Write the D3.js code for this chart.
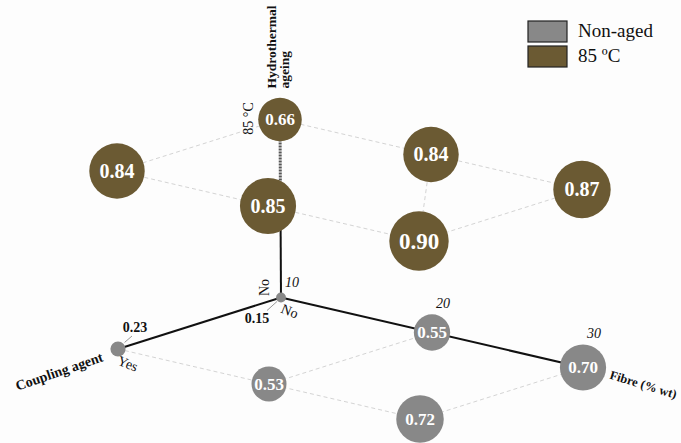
<!DOCTYPE html>
<html>
<head>
<meta charset="utf-8">
<script src="https://cdn.jsdelivr.net/npm/d3@7"></script>
<style>
  html, body { margin: 0; padding: 0; background: #fdfdfd; }
  svg { display: block; }
</style>
</head>
<body>
<svg id="chart" width="681" height="443" font-family="'Liberation Serif', 'Times New Roman', serif"></svg>
<script>
// ---- data ----
const fibreLevels = [10, 20, 30];            // Fibre (% wt)
const couplingLevels = ["No", "Yes"];        // Coupling agent
const ageingLevels = ["Non-aged", "85 °C"];  // Hydrothermal ageing
// values indexed [fibre][coupling]
const nonAgedValues = [[0.15, 0.23], [0.55, 0.53], [0.70, 0.72]];
const agedValues    = [[0.66, 0.84], [0.84, 0.85], [0.87, 0.90]];
// dashed grid connections, as [fibreIndex, couplingIndex] pairs
const nonAgedEdges = [[[0,1],[1,1]], [[1,1],[1,0]], [[1,1],[2,1]], [[2,1],[2,0]]];
const agedEdges = [[[0,0],[0,1]], [[0,0],[1,0]], [[0,1],[1,1]], [[1,1],[2,1]],
                   [[1,0],[2,0]], [[1,0],[2,1]], [[2,0],[2,1]]];
const legendLabels = ["Non-aged", "85 ºC"];
const colors = ["#888888", "#6b5a33"];

// ---- scales ----
const svg = d3.select("#chart");
const origin = [281, 297.5];
const fibreVec = [151, 35];      // per 10 % wt
const couplingVec = [-163, 51.5];
const ageingVec = [-1, -178];
const fScale = d3.scaleLinear().domain([10, 30]).range([0, 2]);
const cScale = d3.scalePoint().domain(couplingLevels).range([0, 1]);
const aScale = d3.scalePoint().domain(ageingLevels).range([0, 1]);
const rScale = d3.scaleLinear().domain([0, 1]).range([0, 33]);
const fontScale = d3.scaleThreshold().domain([0.8, 0.88]).range([17, 20, 23]);

function project(f, c, a) {
  const fu = fScale(f), cu = typeof c === "number" ? c : cScale(c), au = typeof a === "number" ? a : aScale(a);
  return [origin[0] + fu * fibreVec[0] + cu * couplingVec[0] + au * ageingVec[0],
          origin[1] + fu * fibreVec[1] + cu * couplingVec[1] + au * ageingVec[1]];
}

const points = [];
[nonAgedValues, agedValues].forEach((vals, ai) => {
  vals.forEach((row, fi) => row.forEach((v, ci) => {
    const [x, y] = project(fibreLevels[fi], couplingLevels[ci], ageingLevels[ai]);
    points.push({ v, fi, ci, ai, x, y, r: rScale(v) });
  }));
});
const pt = (ai, fi, ci) => points.find(p => p.ai === ai && p.fi === fi && p.ci === ci);

// ---- dashed grid ----
const gridG = svg.append("g");
[nonAgedEdges, agedEdges].forEach((edges, ai) => {
  edges.forEach(([a, b]) => {
    const p = pt(ai, a[0], a[1]), q = pt(ai, b[0], b[1]);
    gridG.append("line").attr("x1", p.x).attr("y1", p.y).attr("x2", q.x).attr("y2", q.y)
      .attr("stroke", "#d4d4d4").attr("stroke-width", 1).attr("stroke-dasharray", "4,3");
  });
});

// ---- axes ----
const axG = svg.append("g");
const o = project(10, "No", "Non-aged");
const fEnd = project(30, "No", "Non-aged");
const cEnd = project(10, "Yes", "Non-aged");
const aMid = project(10, 0, 0.64);
const aEnd = project(10, "No", "85 °C");
axG.append("line").attr("x1", aMid[0]).attr("y1", aMid[1]).attr("x2", aEnd[0]).attr("y2", aEnd[1])
  .attr("stroke", "#555").attr("stroke-width", 3).attr("stroke-dasharray", "2,1");
[[o, fEnd], [o, cEnd], [o, aMid]].forEach(([p, q]) => {
  axG.append("line").attr("x1", p[0]).attr("y1", p[1]).attr("x2", q[0]).attr("y2", q[1])
    .attr("stroke", "#111").attr("stroke-width", 2);
});

// ---- bubbles ----
const bG = svg.append("g");
bG.selectAll("circle").data(points).join("circle")
  .attr("cx", d => d.x).attr("cy", d => d.y).attr("r", d => d.r)
  .attr("fill", d => colors[d.ai]);

// inside labels
bG.selectAll("text.in").data(points.filter(d => d.r >= 10)).join("text")
  .attr("class", "in")
  .attr("x", d => d.x).attr("y", d => d.y)
  .attr("dy", "0.34em")
  .attr("text-anchor", "middle")
  .attr("fill", "#fff").attr("font-weight", "bold")
  .attr("font-size", d => fontScale(d.v))
  .text(d => d.v.toFixed(2));

// outside labels with leader lines (small bubbles)
points.filter(d => d.r < 10).forEach(d => {
  const below = d.ci === 0;
  const dx = below ? -1 : 1, dy = below ? 1 : -1;
  bG.append("line")
    .attr("x1", d.x + dx * (d.r - 1)).attr("y1", d.y + dy * (d.r - 1))
    .attr("x2", d.x + dx * 14).attr("y2", d.y + dy * 13)
    .attr("stroke", "#999").attr("stroke-width", 1);
  bG.append("text")
    .attr("x", below ? d.x - 24 : d.x + 17)
    .attr("y", below ? d.y + 25 : d.y - 17)
    .attr("text-anchor", "middle")
    .attr("font-weight", "bold").attr("font-size", 14).attr("fill", "#111")
    .text(d.v.toFixed(2));
});

// ---- axis text ----
const tG = svg.append("g").attr("fill", "#111");
// fibre ticks
fibreLevels.forEach((f, i) => {
  const p = pt(0, i, 0);
  tG.append("text").attr("x", p.x + 11).attr("y", p.y - p.r - 6)
    .attr("text-anchor", "middle").attr("font-style", "italic").attr("font-size", 14)
    .text(f);
});
tG.append("text").attr("transform", `translate(${fEnd[0] + 26},${fEnd[1] + 11}) rotate(17)`)
  .attr("font-weight", "bold").attr("font-size", 12.5).text("Fibre (% wt)");
// coupling
tG.append("text").attr("transform", `translate(${o[0] + 7},${o[1] + 18}) rotate(22)`)
  .attr("text-anchor", "middle").attr("font-size", 14).text(couplingLevels[0]);
tG.append("text").attr("transform", `translate(${cEnd[0] + 8},${cEnd[1] + 19}) rotate(22)`)
  .attr("text-anchor", "middle").attr("font-size", 14).text(couplingLevels[1]);
tG.append("text").attr("transform", `translate(${cEnd[0] - 14},${cEnd[1] + 12}) rotate(-19)`)
  .attr("text-anchor", "end").attr("font-weight", "bold").attr("font-size", 14).text("Coupling agent");
// ageing
tG.append("text").attr("transform", `translate(${o[0] - 12},${o[1] - 10}) rotate(-90)`)
  .attr("text-anchor", "middle").attr("font-size", 14).text("No");
tG.append("text").attr("transform", `translate(${aEnd[0] - 27},${aEnd[1] - 1}) rotate(-90)`)
  .attr("text-anchor", "middle").attr("font-size", 14).text("85 °C");
tG.append("text").attr("transform", `translate(${aEnd[0] - 4},${aEnd[1] - 31}) rotate(-90)`)
  .attr("font-weight", "bold").attr("font-size", 13.5).text("Hydrothermal");
tG.append("text").attr("transform", `translate(${aEnd[0] + 9},${aEnd[1] - 31}) rotate(-90)`)
  .attr("font-weight", "bold").attr("font-size", 13.5).text("ageing");

// ---- legend ----
const lg = svg.append("g").attr("transform", "translate(528,21)");
legendLabels.forEach((lab, i) => {
  lg.append("rect").attr("x", 0).attr("y", i * 25).attr("width", 39).attr("height", 21)
    .attr("fill", colors[i]).attr("stroke", "#222").attr("stroke-width", 1.2);
  lg.append("text").attr("x", 50).attr("y", i * 25 + 16).attr("font-size", 19)
    .attr("fill", "#111").text(lab);
});
</script>
</body>
</html>
